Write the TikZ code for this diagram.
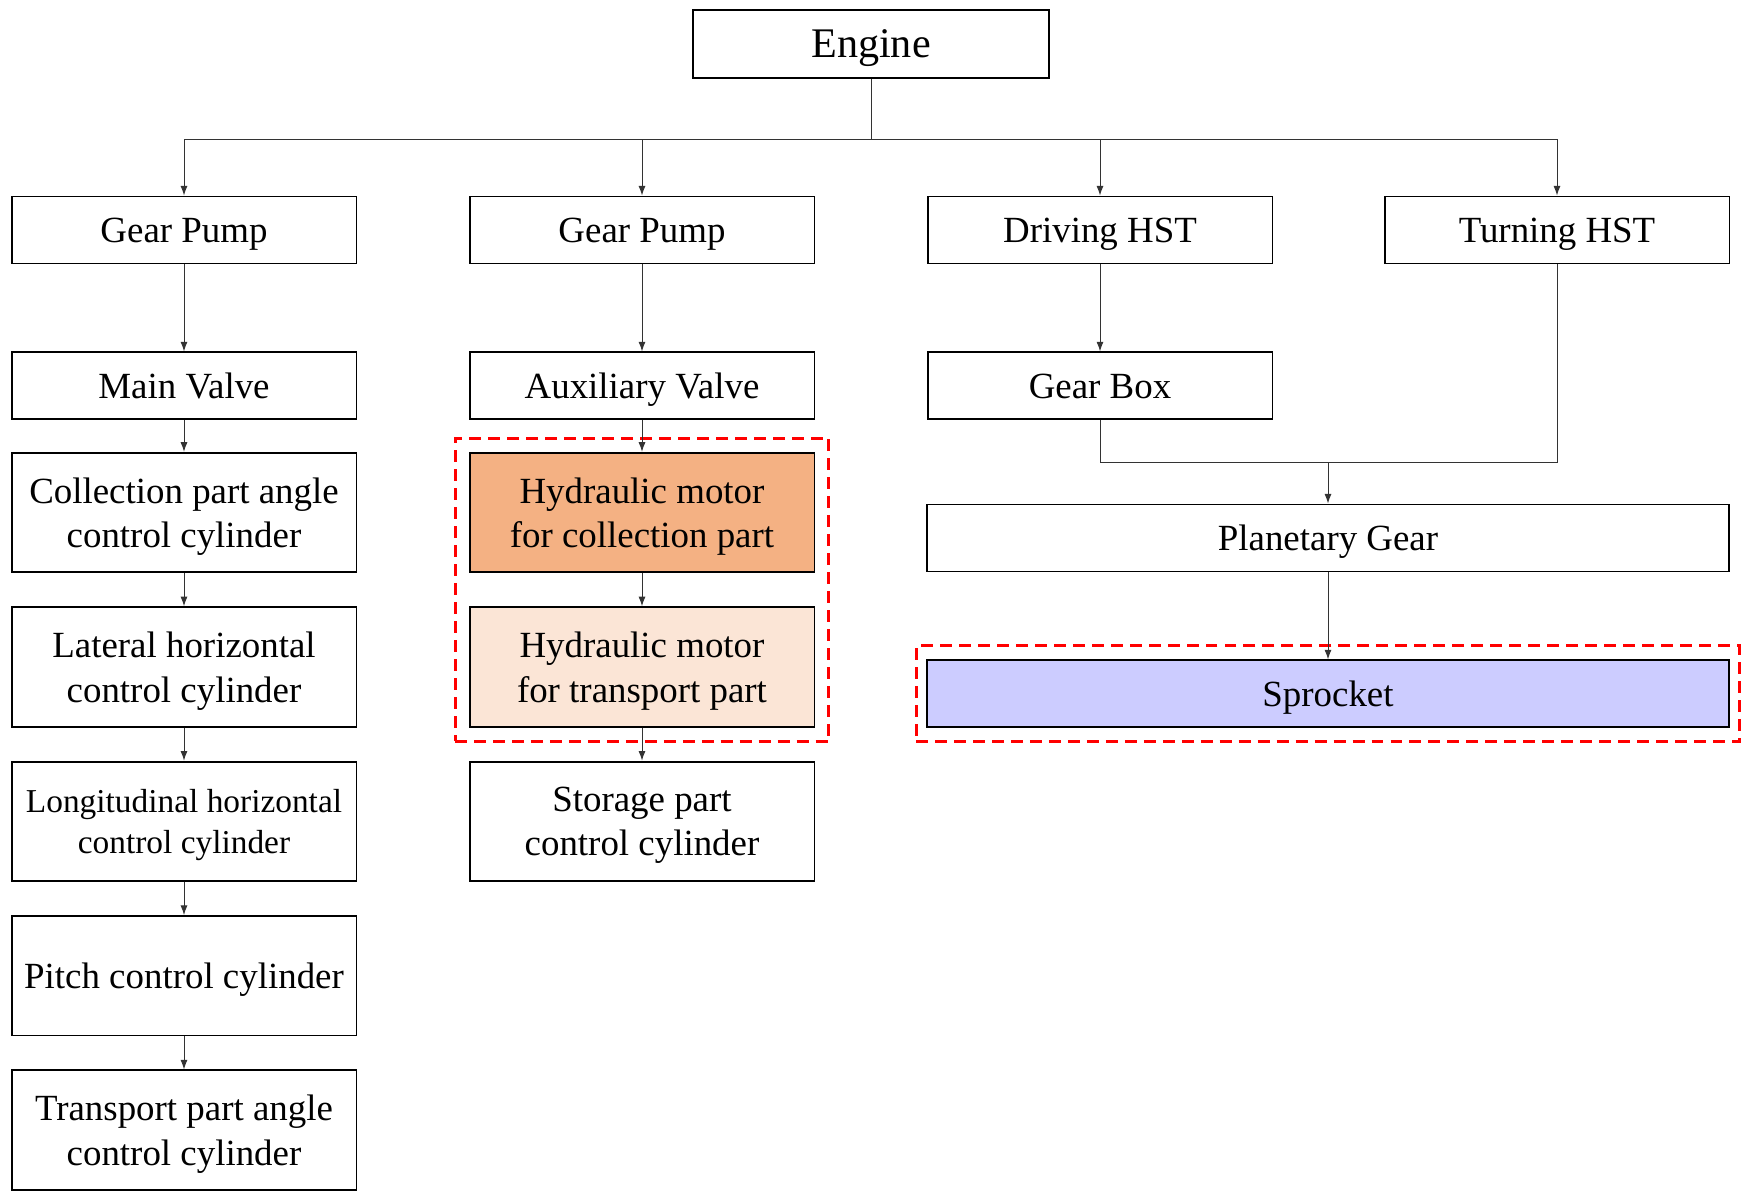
\documentclass[tikz,border=0pt]{standalone}
\usepackage{fontspec}
\setmainfont{Liberation Serif}
\usepackage{tikz}
\usetikzlibrary{arrows.meta, positioning, fit, calc}
\usepackage{xcolor}
\definecolor{motororange}{HTML}{F4B183}
\definecolor{motorpeach}{HTML}{FBE5D6}
\definecolor{sprocketblue}{HTML}{CCCCFF}
\tikzset{%
	block/.style={
		draw,
		line width=1.1pt,
		align=center,
		minimum width=6.9cm,
		minimum height=1.34cm,
		inner sep=1pt,
		text depth=0pt,
		font=\fontsize{21}{25.4}\selectfont
	},
	tall block/.style={
		block,
		minimum height=2.39cm
	},
	link/.style={
		draw=black!80,
		line width=0.55pt
	},
	link arrow/.style={
		link,
		-{Latex[length=5.5pt, width=4pt]}
	},
	group box/.style={
		draw=red,
		line width=1.7pt,
		dash pattern=on 6.8pt off 4pt,
		inner sep=0.27cm
	},
}

\begin{document}
\begin{tikzpicture}[x=0.02cm, y=-0.02cm]
	\useasboundingbox (0,0) rectangle (1752,1201);
	
	% Top of the tree
	\node[block, minimum width=7.12cm, minimum height=1.36cm, font=\fontsize{24}{28}\selectfont] (engine) at (871,44) {Engine};
	
	% First row, one node per column
	\node[block] (pump1) at (184,230) {Gear Pump};
	\node[block] (pump2) at (642,230) {Gear Pump};
	\node[block] (drivehst) at (1100,230) {Driving HST};
	\node[block] (turnhst) at (1557,230) {Turning HST};
	
	% Left column
	\node[block, below=1.74cm of pump1] (mainvalve) {Main Valve};
	\node[tall block, below=0.63cm of mainvalve] (collcyl) {Collection part angle\\control cylinder};
	\node[tall block, below=0.66cm of collcyl] (latcyl) {Lateral horizontal\\control cylinder};
	\node[tall block, below=0.66cm of latcyl, font=\fontsize{19}{23}\selectfont] (longcyl) {Longitudinal horizontal\\control cylinder};
	\node[tall block, below=0.66cm of longcyl] (pitchcyl) {Pitch control cylinder};
	\node[tall block, below=0.66cm of pitchcyl] (transcyl) {Transport part angle\\control cylinder};
	
	% Middle column
	\node[block, below=1.74cm of pump2] (auxvalve) {Auxiliary Valve};
	\node[tall block, fill=motororange, below=0.63cm of auxvalve] (motorcoll) {Hydraulic motor\\for collection part};
	\node[tall block, fill=motorpeach, below=0.66cm of motorcoll] (motortrans) {Hydraulic motor\\for transport part};
	\node[tall block, below=0.66cm of motortrans] (storecyl) {Storage part\\control cylinder};
	
	% Right side
	\node[block, below=1.74cm of drivehst] (gearbox) {Gear Box};
	\node[block, minimum width=16.06cm] (planetary) at (1328,538) {Planetary Gear};
	\node[block, minimum width=16.06cm, fill=sprocketblue, below=1.74cm of planetary] (sprocket) {Sprocket};
	
	% Dashed groups
	\node[group box, fit=(motorcoll)(motortrans)] (motorgroup) {};
	\node[group box, inner xsep=0.19cm, fit=(sprocket)] (sprocketgroup) {};
	
	% Connectors
	\draw[link] (engine.south) -- ++(0,61) coordinate (split);
	\foreach \n in {pump1,pump2,drivehst,turnhst}
		\draw[link arrow] (split) -| (\n.north);
	\foreach \a/\b in {pump1/mainvalve, mainvalve/collcyl, collcyl/latcyl, latcyl/longcyl, longcyl/pitchcyl, pitchcyl/transcyl, pump2/auxvalve, auxvalve/motorcoll, motorcoll/motortrans, motortrans/storecyl, drivehst/gearbox, planetary/sprocket}
		\draw[link arrow] (\a.south) -- (\b.north);
	\coordinate (merge) at ($(gearbox.south)+(0,42)$);
	\draw[link] (gearbox.south) -- (merge) -| (turnhst.south);
	\draw[link arrow] (merge -| planetary.north) -- (planetary.north);
\end{tikzpicture}
\end{document}
